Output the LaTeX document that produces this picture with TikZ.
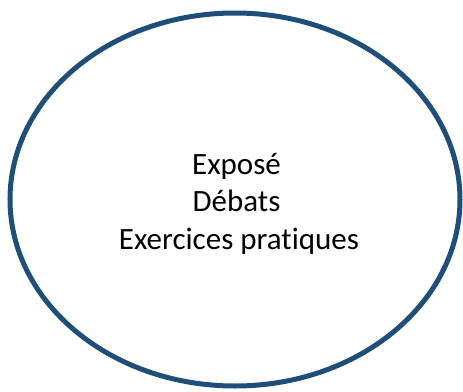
\documentclass[tikz,border=0pt]{standalone}
\usepackage{fontspec}
\setmainfont[Ligatures=CommonOff]{Carlito}
\definecolor{ovalblue}{RGB}{31,78,121}
\tikzset{ligne/.style={anchor=base, inner sep=0pt, font=\fontsize{31}{37.5}\selectfont, text=black}}
\begin{document}
\begin{tikzpicture}[x=1pt,y=-1pt]
	\useasboundingbox (0,0) rectangle (463,391);
	\draw[line width=5pt, color=ovalblue] (235,199.5) ellipse (225 and 186.5);
	\node[ligne] (expose) at (236.5,174) {Exposé};
	\node[ligne] (debats) at (236.5,211.5) {Débats};
	\node[ligne] (exercices) at (239,249) {Exercices pratiques};
\end{tikzpicture}
\end{document}
